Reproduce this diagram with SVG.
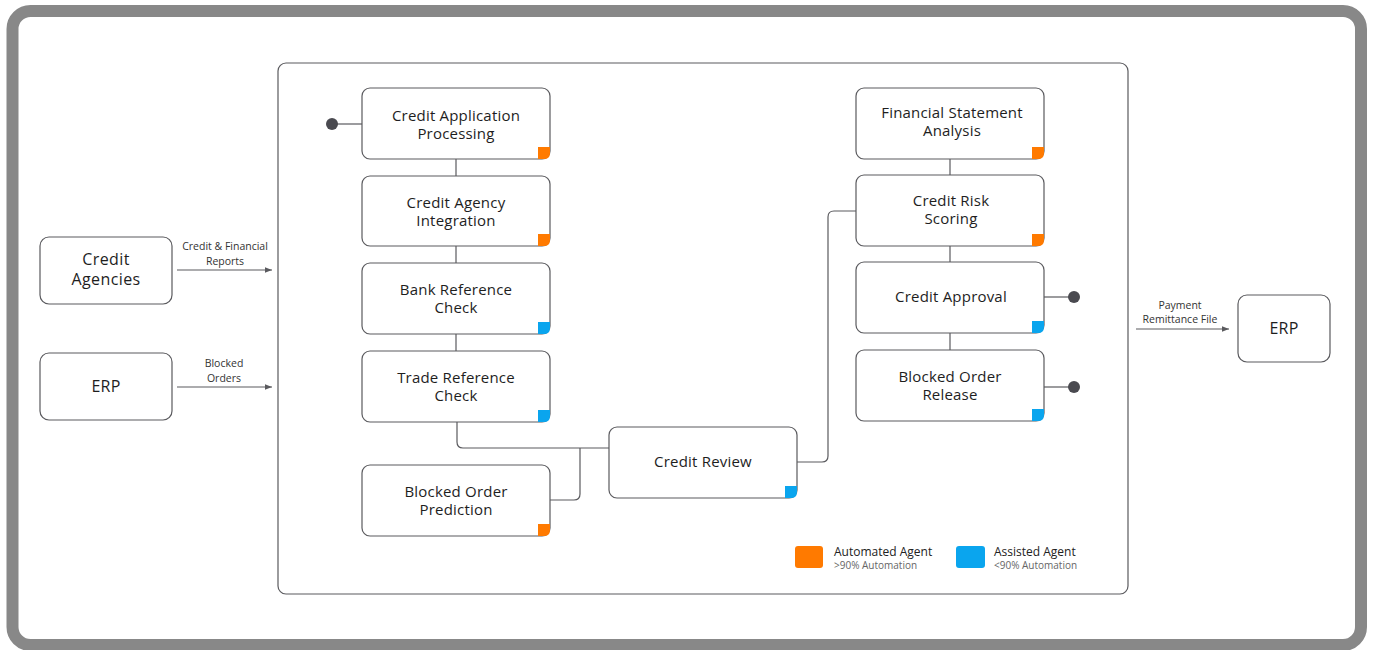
<svg xmlns="http://www.w3.org/2000/svg" width="1374" height="650" viewBox="0 0 1374 650">
<style>
.node{fill:#fff;stroke:#5a5a5e;stroke-width:1.2}
.t{font-family:"Open Sans","Noto Sans",sans-serif;font-size:15px;font-weight:500;fill:#1e1e1e;text-anchor:middle;letter-spacing:0.2px}
.tb{font-family:"Open Sans","Noto Sans",sans-serif;font-size:16px;font-weight:500;fill:#1e1e1e;text-anchor:middle;letter-spacing:0.4px}
.lbl{font-family:"Open Sans","Noto Sans",sans-serif;font-size:10.5px;fill:#333;text-anchor:middle}
.leg{font-family:"Open Sans","Noto Sans",sans-serif;font-size:12px;fill:#222}
.legs{font-family:"Open Sans","Noto Sans",sans-serif;font-size:10px;fill:#666}
.c{fill:none;stroke:#5a5a5e;stroke-width:1.2}
.o{fill:#ff7a00}
.b{fill:#0aa5ee}
.dot{fill:#4a4a50}
</style>
<defs>
<marker id="ah" viewBox="0 0 10 10" refX="10" refY="5" markerWidth="6" markerHeight="6" orient="auto"><path d="M0,1 L10,5 L0,9 z" fill="#5a5a5e"/></marker>
</defs>
<rect x="0" y="0" width="1374" height="650" fill="#fff"/>
<rect x="12.5" y="11" width="1348.5" height="634" rx="18" fill="none" stroke="#888" stroke-width="12"/>
<rect x="278" y="63" width="850" height="531" rx="8" fill="none" stroke="#5a5a5e" stroke-width="1.2"/>

<g id="connectors">
<line class="c" x1="332" y1="124" x2="362" y2="124"/>
<circle class="dot" cx="332" cy="124" r="6"/>
<line class="c" x1="456" y1="159" x2="456" y2="176"/>
<line class="c" x1="456" y1="246" x2="456" y2="263"/>
<line class="c" x1="456" y1="334" x2="456" y2="351"/>
<path class="c" d="M457,422 V442 Q457,448 463,448 H609"/>
<path class="c" d="M550,500 H574 Q580,500 580,494 V448"/>
<path class="c" d="M797,462 H822 Q828,462 828,456 V217 Q828,211 834,211 H856"/>
<line class="c" x1="950" y1="159" x2="950" y2="175"/>
<line class="c" x1="950" y1="246" x2="950" y2="262"/>
<line class="c" x1="950" y1="333" x2="950" y2="350"/>
<line class="c" x1="1044" y1="297" x2="1074" y2="297"/>
<circle class="dot" cx="1074" cy="297" r="6"/>
<line class="c" x1="1044" y1="387" x2="1074" y2="387"/>
<circle class="dot" cx="1074" cy="387" r="6"/>
<line class="c" x1="177" y1="270" x2="272" y2="270" marker-end="url(#ah)"/>
<line class="c" x1="177" y1="387" x2="272" y2="387" marker-end="url(#ah)"/>
<line class="c" x1="1136" y1="329" x2="1229" y2="329" marker-end="url(#ah)"/>
<text class="lbl" x="225" y="250">Credit &amp; Financial</text>
<text class="lbl" x="225" y="265">Reports</text>
<text class="lbl" x="224" y="367">Blocked</text>
<text class="lbl" x="224" y="382">Orders</text>
<text class="lbl" x="1180" y="309">Payment</text>
<text class="lbl" x="1180" y="323">Remittance File</text>
</g>

<g id="credit-agencies"><rect class="node" x="40" y="237" width="132" height="67" rx="9"/><text class="tb" x="106" y="265">Credit</text><text class="tb" x="106" y="285">Agencies</text></g>
<g id="erp-left"><rect class="node" x="40" y="353" width="132" height="67" rx="9"/><text class="t" x="106" y="392" style="font-size:16px">ERP</text></g>
<g id="erp-right"><rect class="node" x="1238" y="295" width="92" height="67" rx="9"/><text class="t" x="1284" y="334" style="font-size:16px">ERP</text></g>

<g id="credit-application-processing"><rect class="node" x="362" y="88" width="188" height="71" rx="8"/><text class="t" x="456" y="121">Credit Application</text><text class="t" x="456" y="139">Processing</text><path class="o" d="M538,147 H550 V153 Q550,159 544,159 H538 Z"/></g>
<g id="credit-agency-integration"><rect class="node" x="362" y="176" width="188" height="70" rx="8"/><text class="t" x="456" y="208">Credit Agency</text><text class="t" x="456" y="226">Integration</text><path class="o" d="M538,234 H550 V240 Q550,246 544,246 H538 Z"/></g>
<g id="bank-reference-check"><rect class="node" x="362" y="263" width="188" height="71" rx="8"/><text class="t" x="456" y="295">Bank Reference</text><text class="t" x="456" y="313">Check</text><path class="b" d="M538,322 H550 V328 Q550,334 544,334 H538 Z"/></g>
<g id="trade-reference-check"><rect class="node" x="362" y="351" width="188" height="71" rx="8"/><text class="t" x="456" y="383">Trade Reference</text><text class="t" x="456" y="401">Check</text><path class="b" d="M538,410 H550 V416 Q550,422 544,422 H538 Z"/></g>
<g id="blocked-order-prediction"><rect class="node" x="362" y="465" width="188" height="71" rx="8"/><text class="t" x="456" y="497">Blocked Order</text><text class="t" x="456" y="515">Prediction</text><path class="o" d="M538,524 H550 V530 Q550,536 544,536 H538 Z"/></g>
<g id="credit-review"><rect class="node" x="609" y="427" width="188" height="71" rx="8"/><text class="t" x="703" y="467">Credit Review</text><path class="b" d="M785,486 H797 V492 Q797,498 791,498 H785 Z"/></g>
<g id="financial-statement-analysis"><rect class="node" x="856" y="88" width="188" height="71" rx="8"/><text class="t" x="952" y="118">Financial Statement</text><text class="t" x="952" y="136">Analysis</text><path class="o" d="M1032,147 H1044 V153 Q1044,159 1038,159 H1032 Z"/></g>
<g id="credit-risk-scoring"><rect class="node" x="856" y="175" width="188" height="71" rx="8"/><text class="t" x="951" y="206">Credit Risk</text><text class="t" x="951" y="224">Scoring</text><path class="o" d="M1032,234 H1044 V240 Q1044,246 1038,246 H1032 Z"/></g>
<g id="credit-approval"><rect class="node" x="856" y="262" width="188" height="71" rx="8"/><text class="t" x="951" y="302">Credit Approval</text><path class="b" d="M1032,321 H1044 V327 Q1044,333 1038,333 H1032 Z"/></g>
<g id="blocked-order-release"><rect class="node" x="856" y="350" width="188" height="71" rx="8"/><text class="t" x="950" y="382">Blocked Order</text><text class="t" x="950" y="400">Release</text><path class="b" d="M1032,409 H1044 V415 Q1044,421 1038,421 H1032 Z"/></g>

<g id="legend">
<rect class="o" x="795" y="546" width="28" height="22" rx="3"/>
<text class="leg" x="834" y="556">Automated Agent</text>
<text class="legs" x="834" y="569">&gt;90% Automation</text>
<rect class="b" x="956" y="546" width="29" height="22" rx="3"/>
<text class="leg" x="994" y="556">Assisted Agent</text>
<text class="legs" x="994" y="569">&lt;90% Automation</text>
</g>
</svg>
